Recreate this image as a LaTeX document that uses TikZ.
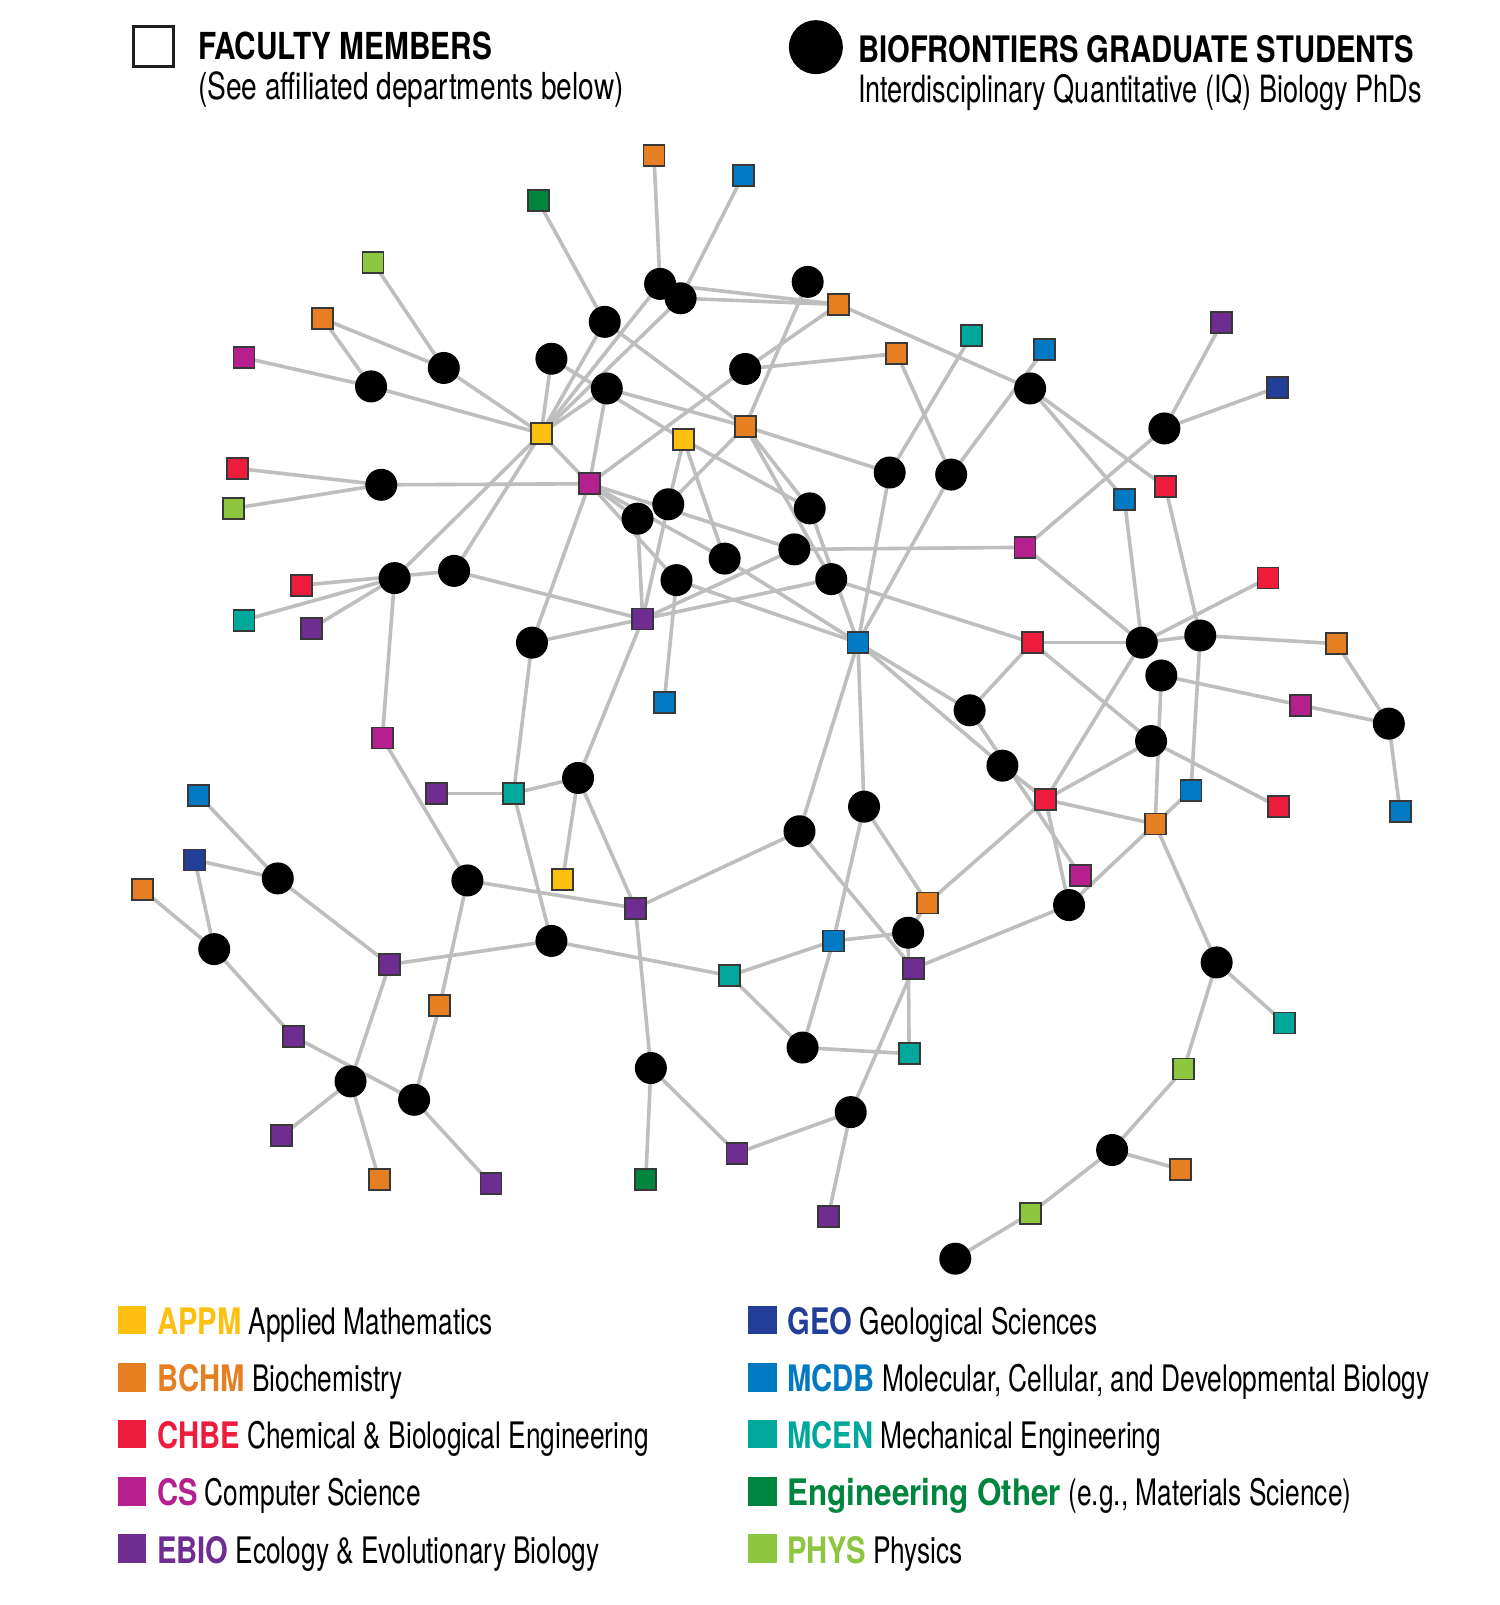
\documentclass[tikz,border=0pt]{standalone}
\usepackage{fontspec}
\newfontfamily\rgf[FakeStretch=0.72]{TeX Gyre Heros}
\newfontfamily\rgt[FakeStretch=0.755]{TeX Gyre Heros}
\newfontfamily\bdf[FakeStretch=0.80]{TeX Gyre Heros}
\newfontfamily\bdw[FakeStretch=0.86]{TeX Gyre Heros}
\usetikzlibrary{backgrounds}
\definecolor{cAPPM}{HTML}{FDC010}
\definecolor{cBCHM}{HTML}{E67E22}
\definecolor{cCHBE}{HTML}{ED1B3C}
\definecolor{cCS}{HTML}{B5208E}
\definecolor{cEBIO}{HTML}{6F2C91}
\definecolor{cGEO}{HTML}{213F99}
\definecolor{cMCDB}{HTML}{007AC3}
\definecolor{cMCEN}{HTML}{00A89C}
\definecolor{cENG}{HTML}{00853F}
\definecolor{cPHYS}{HTML}{8DC63F}
\definecolor{edgegray}{HTML}{BEBEBE}
\tikzset{
  fac/.style={draw=black!78, line width=1.8pt, minimum size=21pt, inner sep=0pt, fill=#1},
  stu/.style={circle, fill=black, minimum size=32pt, inner sep=0pt},
  link/.style={draw=edgegray, line width=3.6pt},
  legsq/.style={minimum size=28.5pt, inner sep=0pt, fill=#1},
  legtxt/.style={anchor=base west, inner sep=0pt, font=\rgf\fontsize{36.5}{40}\selectfont},
}
\begin{document}
\begin{tikzpicture}[x=1.025pt,y=-1.025pt]
\useasboundingbox (0,0) rectangle (1463.4,1565.9);
% top legend
\node[draw=black!88, line width=3.2pt, minimum size=40pt, inner sep=0pt] (legfac) at (150,45.5) {};
\node[legtxt, font=\bdf\bfseries\fontsize{37.2}{40}\selectfont] (tfac) at (193,58.5) {FACULTY MEMBERS};
\node[legtxt, font=\rgt\fontsize{37.2}{40}\selectfont] (tfac2) at (193,97) {(See affiliated departments below)};
\node[circle, fill=black, minimum size=54pt, inner sep=0pt] (legstu) at (796,46) {};
\node[legtxt, font=\bdf\bfseries\fontsize{36.5}{40}\selectfont] (tstu) at (837,61) {BIOFRONTIERS GRADUATE STUDENTS};
\node[legtxt, font=\rgf\fontsize{37.6}{40}\selectfont] (tstu2) at (837,100) {Interdisciplinary Quantitative (IQ) Biology PhDs};
% faculty squares
\node[fac=cENG] (s1) at (525,196) {};
\node[fac=cBCHM] (s2) at (638,152) {};
\node[fac=cMCDB] (s3) at (725,171) {};
\node[fac=cPHYS] (s4) at (364,256) {};
\node[fac=cBCHM] (s5) at (315,311) {};
\node[fac=cCS] (s6) at (238,349) {};
\node[fac=cAPPM] (s7) at (528,423) {};
\node[fac=cAPPM] (s8) at (667,429) {};
\node[fac=cBCHM] (s9) at (727,416) {};
\node[fac=cBCHM] (s10) at (818,297) {};
\node[fac=cBCHM] (s11) at (875,345) {};
\node[fac=cMCEN] (s12) at (948,327) {};
\node[fac=cMCDB] (s13) at (1019,341) {};
\node[fac=cEBIO] (s14) at (1192,315) {};
\node[fac=cGEO] (s15) at (1246,378) {};
\node[fac=cCHBE] (s16) at (1137,475) {};
\node[fac=cMCDB] (s17) at (1097,487) {};
\node[fac=cCS] (s18) at (575,472) {};
\node[fac=cCHBE] (s19) at (232,457) {};
\node[fac=cPHYS] (s20) at (228,496) {};
\node[fac=cCHBE] (s21) at (294,571) {};
\node[fac=cMCEN] (s22) at (238,605) {};
\node[fac=cEBIO] (s23) at (304,613) {};
\node[fac=cCS] (s24) at (1000,534) {};
\node[fac=cCHBE] (s25) at (1237,564) {};
\node[fac=cEBIO] (s26) at (627,604) {};
\node[fac=cMCDB] (s27) at (837,627) {};
\node[fac=cCHBE] (s28) at (1007,627) {};
\node[fac=cBCHM] (s29) at (1304,628) {};
\node[fac=cMCDB] (s30) at (648,685) {};
\node[fac=cCS] (s31) at (1269,688) {};
\node[fac=cCS] (s32) at (373,720) {};
\node[fac=cMCDB] (s33) at (194,776) {};
\node[fac=cEBIO] (s34) at (426,774) {};
\node[fac=cMCEN] (s35) at (501,774) {};
\node[fac=cCHBE] (s36) at (1020,780) {};
\node[fac=cMCDB] (s37) at (1162,771) {};
\node[fac=cCHBE] (s38) at (1247,787) {};
\node[fac=cMCDB] (s39) at (1366,792) {};
\node[fac=cBCHM] (s40) at (1127,804) {};
\node[fac=cGEO] (s41) at (190,839) {};
\node[fac=cBCHM] (s42) at (139,868) {};
\node[fac=cAPPM] (s43) at (549,858) {};
\node[fac=cEBIO] (s44) at (620,886) {};
\node[fac=cCS] (s45) at (1054,854) {};
\node[fac=cBCHM] (s46) at (905,881) {};
\node[fac=cMCDB] (s47) at (813,918) {};
\node[fac=cEBIO] (s48) at (380,941) {};
\node[fac=cMCEN] (s49) at (712,952) {};
\node[fac=cEBIO] (s50) at (891,945) {};
\node[fac=cBCHM] (s51) at (429,981) {};
\node[fac=cMCEN] (s52) at (1253,998) {};
\node[fac=cEBIO] (s53) at (286,1011) {};
\node[fac=cMCEN] (s54) at (887,1028) {};
\node[fac=cPHYS] (s55) at (1155,1043) {};
\node[fac=cEBIO] (s56) at (275,1108) {};
\node[fac=cBCHM] (s57) at (370,1151) {};
\node[fac=cEBIO] (s58) at (479,1155) {};
\node[fac=cENG] (s59) at (630,1151) {};
\node[fac=cEBIO] (s60) at (719,1125) {};
\node[fac=cEBIO] (s61) at (808,1187) {};
\node[fac=cBCHM] (s62) at (1152,1141) {};
\node[fac=cPHYS] (s63) at (1005,1184) {};
% students
\foreach \n/\x/\y in {c1/644/277, c2/664/291, c3/788/275, c4/590/314, c5/538/350, c6/433/359,
  c7/362/377, c8/592/379, c9/727/360, c10/1005/379, c11/1136/418, c12/868/461, c13/928/463,
  c14/372/473, c15/652/492, c16/622/506, c17/790/496, c18/707/545, c19/775/536, c20/660/566,
  c21/811/565, c22/385/564, c23/443/557, c24/519/627, c25/1114/627, c26/1171/620, c27/1133/659,
  c28/946/693, c29/1355/706, c30/1123/723, c31/978/747, c32/564/759, c33/843/787, c34/780/811,
  c35/271/857, c36/456/859, c37/209/926, c38/538/918, c39/886/910, c40/1043/883, c41/1187/939,
  c42/783/1022, c43/342/1055, c44/404/1073, c45/635/1042, c46/830/1085, c47/1085/1122, c48/932/1228}
  {\node[stu] (\n) at (\x,\y) {};}
% connectors
\begin{pgfonlayer}{background}
\fill[white] (0,0) rectangle (1463.4,1565.9);
\foreach \a/\b in {s4/c6, s5/c6, s5/c7, s6/c7, c7/s7, c6/s7,
  s19/c14, s20/c14, c14/s18,
  s1/c4, s2/c1, s3/c2, c1/s10, c2/s10, c1/s7, c2/s7, c4/s7, c5/s7, c8/s7,
  c4/s9, c3/s9, c5/s8, c8/s9, c8/s18, c9/s10, c9/s11, c9/s18, s7/s18,
  s7/c22, s7/c23, s8/c15, s8/c18, s8/c17, s9/c15, s9/c12, s9/c17, s9/c21,
  s10/c10, s11/c13, s12/c12, s13/c13, c10/s17, c10/s16,
  s14/c11, s15/c11, c11/s24, s16/c26, s17/c25, s25/c25, s28/c25, c25/c26, c26/s29, s29/c29,
  c29/s31, c29/s39, s31/c27, c27/s40, c26/s37,
  s28/c30, s36/c30, s36/c25, s24/c25, s24/c19, s28/c21, s28/c28, s27/c28, s27/c31, s27/c33,
  s27/c34, c28/s45, c31/s36, s36/s46, s36/c40, s36/s40, c40/s37, s40/c41, c30/s38,
  c41/s52, c41/s55, s55/c47, c47/s62, c47/s63, s63/c48,
  c12/s27, c13/s27, c17/s27,
  s21/c23, s22/c22, s23/c22, c22/s32, c23/s26, s32/c36, s34/s35, c32/s35, c32/s43, c32/s26,
  c32/s44, s35/c24, s35/c38, c24/s26, c24/s18, c16/s26, c15/s26, c20/s30, c20/s27, s18/c16,
  s18/c18, c18/s27, s18/c19, s26/c19, s26/c21, s18/c20,
  s33/c35, s41/c35, s41/c37, s42/c37, c35/s48, c37/s53, s53/c44, s48/c43, c43/s56, c43/s57,
  c44/s51, c44/s58, s51/c36, s48/c38, c36/s44, c38/s49, s49/s47, s47/c39, s47/c42, s49/c42,
  c42/s54, s44/c45, c45/s59, c45/s60, s60/c46, c46/s61, c46/s50, s44/c34, c33/s47, c33/s46,
  s46/c39, c39/s54, c34/s50, s50/c40}
  {\draw[link] (\a.center) -- (\b.center);}
\end{pgfonlayer}
% bottom legend
\node[legsq=cAPPM] (lq1) at (129,1288) {};
\node[legtxt] (lt1) at (153,1302) {{\bdf\bfseries\color{cAPPM}APPM} Applied Mathematics};
\node[legsq=cBCHM] (lq2) at (129,1344) {};
\node[legtxt] (lt2) at (153,1358) {{\bdf\bfseries\color{cBCHM}BCHM} Biochemistry};
\node[legsq=cCHBE] (lq3) at (129,1399) {};
\node[legtxt] (lt3) at (153,1413) {{\bdf\bfseries\color{cCHBE}CHBE} Chemical \& Biological Engineering};
\node[legsq=cCS] (lq4) at (129,1455) {};
\node[legtxt] (lt4) at (153,1469) {{\bdf\bfseries\color{cCS}CS} Computer Science};
\node[legsq=cEBIO] (lq5) at (129,1511) {};
\node[legtxt] (lt5) at (153,1525) {{\bdf\bfseries\color{cEBIO}EBIO} Ecology \& Evolutionary Biology};
\node[legsq=cGEO] (rq1) at (744,1288) {};
\node[legtxt] (rt1) at (768,1302) {{\bdf\bfseries\color{cGEO}GEO} Geological Sciences};
\node[legsq=cMCDB] (rq2) at (744,1344) {};
\node[legtxt] (rt2) at (768,1358) {{\bdf\bfseries\color{cMCDB}MCDB} Molecular, Cellular, and Developmental Biology};
\node[legsq=cMCEN] (rq3) at (744,1399) {};
\node[legtxt] (rt3) at (768,1413) {{\bdf\bfseries\color{cMCEN}MCEN} Mechanical Engineering};
\node[legsq=cENG] (rq4) at (744,1455) {};
\node[legtxt] (rt4) at (768,1469) {{\bdw\bfseries\color{cENG}Engineering Other} (e.g., Materials Science)};
\node[legsq=cPHYS] (rq5) at (744,1511) {};
\node[legtxt] (rt5) at (768,1525) {{\bdf\bfseries\color{cPHYS}PHYS} Physics};
\end{tikzpicture}
\end{document}
